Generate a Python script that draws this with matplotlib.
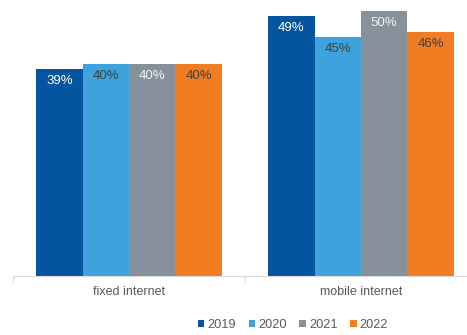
import matplotlib
matplotlib.use("Agg")
import matplotlib.pyplot as plt
import numpy as np
from matplotlib.patches import Patch

categories = ["fixed internet", "mobile internet"]
years = ["2019", "2020", "2021", "2022"]
values = {
    "2019": [39, 49],
    "2020": [40, 45],
    "2021": [40, 50],
    "2022": [40, 46],
}
colors = ["#02559E", "#3EA3DC", "#86919C", "#F27C21"]
label_colors = ["white", "#404040", "#F2F2F2", "#404040"]

plt.rcParams['font.family'] = ['Liberation Sans', 'DejaVu Sans']

W, H = 467, 335
fig = plt.figure(figsize=(W/100, H/100), dpi=100)
ax_left, ax_bottom = 13, 276
ax = fig.add_axes([ax_left/W, (H-ax_bottom)/H, (W-ax_left)/W, ax_bottom/H])

x = np.arange(len(categories))
bw = 0.2
for i, y in enumerate(years):
    pos = x + (i - 1.5) * bw
    ax.bar(pos, values[y], width=bw, color=colors[i], edgecolor="none", zorder=2)
    for p, v in zip(pos, values[y]):
        ax.text(p, v - 2.3, f"{v}%", ha="center", va="center", fontsize=9.5,
                color=label_colors[i], zorder=3)

ax.set_xticks([-0.5, 0.5])
ax.set_xticklabels(["", ""])
ax.set_xlim(-0.5, -0.5 + (W - ax_left) / 232)
ax.set_ylim(0, 52)
ax.set_yticks([])
for s in ["top", "right", "left"]:
    ax.spines[s].set_visible(False)
ax.spines["bottom"].set_color("#D9D9D9")
ax.spines["bottom"].set_linewidth(0.8)
ax.tick_params(axis="x", length=4, color="#D9D9D9", direction="out")
for xi, c in zip(x, categories):
    ax.text(xi, -16/276*52, c, ha="center", va="center", fontsize=9,
            color="#595959")

handles = [Patch(facecolor=c, edgecolor="none") for c in colors]
fig.legend(handles, years, loc="center", bbox_to_anchor=(293/W, 1 - 325/H),
           ncol=4, frameon=False, fontsize=9.2, labelcolor="#595959",
           handlelength=0.5, handleheight=0.5, handletextpad=0.25,
           columnspacing=1.0)

fig.savefig("out.png", dpi=100)
